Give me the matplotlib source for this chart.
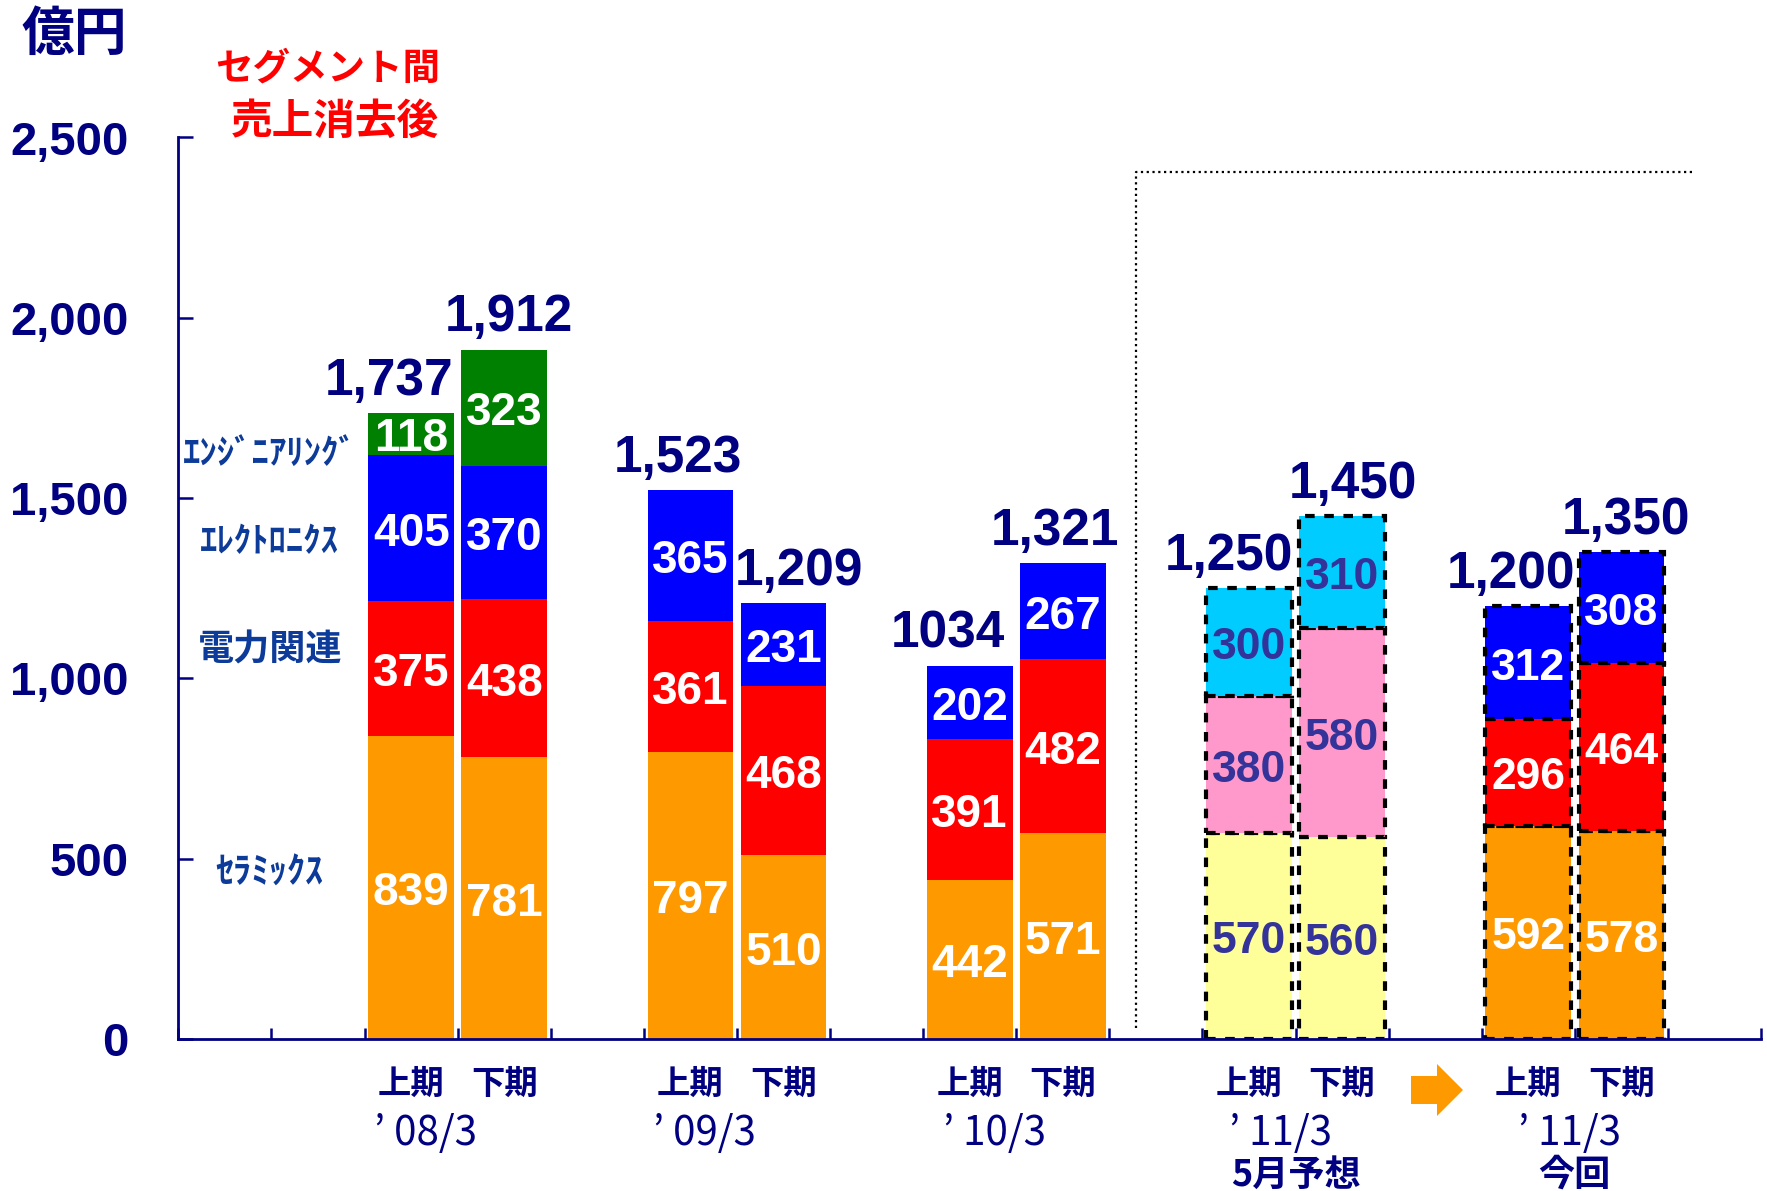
import matplotlib
matplotlib.use("Agg")
import matplotlib.pyplot as plt
from matplotlib import font_manager
from matplotlib.patches import Polygon

# ---------------- data ----------------
half_labels = ['上期', '下期', '上期', '下期', '上期', '下期', '上期', '下期', '上期', '下期']
year_labels = ['’ 08/3', '’ 09/3', '’ 10/3', '’ 11/3', '’ 11/3']
year_sub = ['', '', '', '5月予想', '今回']
ceramics = [839, 781, 797, 510, 442, 571, 570, 560, 592, 578]
power = [375, 438, 361, 468, 391, 482, 380, 580, 296, 464]
electronics = [405, 370, 365, 231, 202, 267, 300, 310, 312, 308]
engineering = [118, 323, 0, 0, 0, 0, 0, 0, 0, 0]
total_labels = ['1,737', '1,912', '1,523', '1,209', '1034', '1,321', '1,250', '1,450', '1,200', '1,350']
bar_kind = ['actual'] * 6 + ['forecast'] * 2 + ['revised'] * 2
segment_names = ['ｾﾗﾐｯｸｽ', '電力関連', 'ｴﾚｸﾄﾛﾆｸｽ', 'ｴﾝｼﾞﾆｱﾘﾝｸﾞ']
yticks = [0, 500, 1000, 1500, 2000, 2500]
ytick_labels = ['0', '500', '1,000', '1,500', '2,000', '2,500']

# ---------------- style ----------------
W, H = 1767, 1191
NAVY = '#000080'
SEGBLUE = '#0D3B99'
actual_colors = ['#FF9900', '#FF0000', '#0000FF', '#008000']
forecast_colors = ['#FFFF99', '#FF99CC', '#00CCFF', '#008000']
FC_TEXT = '#333399'
JP = ['Noto Sans CJK JP', 'DejaVu Sans']
names = {f.name for f in font_manager.fontManager.ttflist}
NARROW = 'Liberation Sans Narrow' in names

fig = plt.figure(figsize=(W / 100, H / 100), dpi=100)
fig.patch.set_facecolor('white')
ax = fig.add_axes([178.4 / W, 1 - 1039 / H, (1761 - 178.4) / W, (1039 - 137.5) / H])

n_slots = 17
xs = []
for g in range(5):
    xs += [3 * g + 2, 3 * g + 3]

series = [ceramics, power, electronics, engineering]
bottoms = [0] * len(xs)
for si, vals in enumerate(series):
    for i, x in enumerate(xs):
        v = vals[i]
        if v == 0:
            continue
        kind = bar_kind[i]
        if kind == 'actual':
            color = actual_colors[si]
            ax.bar(x, v, bottom=bottoms[i], width=0.92, color=color, linewidth=0, zorder=2)
            tcolor = 'white'
        else:
            color = forecast_colors[si] if kind == 'forecast' else actual_colors[si]
            ax.bar(x, v, bottom=bottoms[i], width=0.92, color=color, edgecolor='black',
                   linewidth=3.0, linestyle=(0, (2.3, 2.3)), zorder=2)
            tcolor = FC_TEXT if kind == 'forecast' else 'white'
        if kind == 'actual':
            fam, fs = ['Liberation Sans'], 33
        else:
            fam, fs = (['Liberation Sans Narrow'], 38) if NARROW else (['Liberation Sans'], 32)
        ax.annotate(str(v), (x, bottoms[i] + v / 2), xytext=(0, -4), textcoords='offset points',
                    ha='center', va='center', color=tcolor,
                    fontsize=fs, fontweight='bold', family=fam, zorder=5)
        bottoms[i] += v

# totals
total_dx = [-0.24, 0.05, -0.13, 0.17, -0.23, -0.08, -0.22, 0.12, -0.19, 0.05]
for i, x in enumerate(xs):
    ax.annotate(total_labels[i], (x + total_dx[i], bottoms[i]), xytext=(0, 13),
                textcoords='offset points', ha='center', va='baseline', color=NAVY,
                fontsize=37, fontweight='bold', family=['Liberation Sans'], zorder=5)

# dotted frame around forecast area
ax.plot([9.785, 9.785, 15.76], [30, 2403, 2403], color='black', lw=1.6,
        linestyle=(0, (1, 1.6)), zorder=1, clip_on=False)

# axes
ax.set_xlim(-0.5, n_slots - 0.5)
ax.set_ylim(0, 2500)
for s in ['top', 'right']:
    ax.spines[s].set_visible(False)
for s in ['left', 'bottom']:
    ax.spines[s].set_color(NAVY)
    ax.spines[s].set_linewidth(2.0)
ax.set_yticks(yticks)
ax.set_yticklabels(ytick_labels)
ax.tick_params(axis='y', direction='in', length=11, width=1.8, color=NAVY, pad=36,
               labelsize=34, labelcolor=NAVY)
for lab in ax.get_yticklabels():
    lab.set_fontweight('bold')
    lab.set_family('Liberation Sans')
ax.set_xticks([k - 0.5 for k in range(n_slots + 1)])
ax.set_xticklabels([])
ax.tick_params(axis='x', direction='in', length=8, width=1.8, color=NAVY)

# x labels
for i, x in enumerate(xs):
    ax.text(x, -127, half_labels[i], ha='center', va='center', color=NAVY, fontsize=24,
            fontweight='bold', family=JP, clip_on=False)
year_dx = [-0.35, -0.35, -0.23, -0.16, -0.06]
year_fam = ['Liberation Sans Narrow', 'Noto Sans CJK JP'] if NARROW else JP
for g in range(5):
    cx = 3 * g + 2.5
    ax.text(cx + year_dx[g], -262, year_labels[g], ha='center', va='center', color=NAVY,
            fontsize=38 if NARROW else 29, family=year_fam, fontweight='normal', clip_on=False)
    if year_sub[g]:
        ax.text(cx, -378, year_sub[g], ha='center', va='center', color=NAVY,
                fontsize=26, family=JP, fontweight='bold', clip_on=False)

# segment names on the left
seg_pos = [(0.48, 460, 26), (0.48, 1078, 26), (0.48, 1380, 25), (0.48, 1624, 25)]
for name, (px, py, fs) in zip(segment_names, seg_pos):
    ax.text(px, py, name, ha='center', va='center', color=SEGBLUE, fontsize=fs,
            fontweight='bold', family=JP)

# arrow between forecast and revised
pts = [(1411, 1076), (1437, 1076), (1437, 1064), (1463, 1090), (1437, 1116), (1437, 1104), (1411, 1104)]
fig.patches.append(Polygon([(x / W, 1 - y / H) for x, y in pts], closed=True,
                           facecolor='#FF9900', edgecolor='none', transform=fig.transFigure))

# header texts
fig.text(74 / W, 1 - 34 / H, '億円', ha='center', va='center', color=NAVY, fontsize=38,
         fontweight='bold', family=JP)
fig.text(328 / W, 1 - 68 / H, 'セグメント間', ha='center', va='center', color='#FF0000',
         fontsize=27, fontweight='bold', family=JP)
fig.text(335 / W, 1 - 122 / H, '売上消去後', ha='center', va='center', color='#FF0000',
         fontsize=30, fontweight='bold', family=JP)

fig.savefig('out.png', dpi=100, facecolor='white')
